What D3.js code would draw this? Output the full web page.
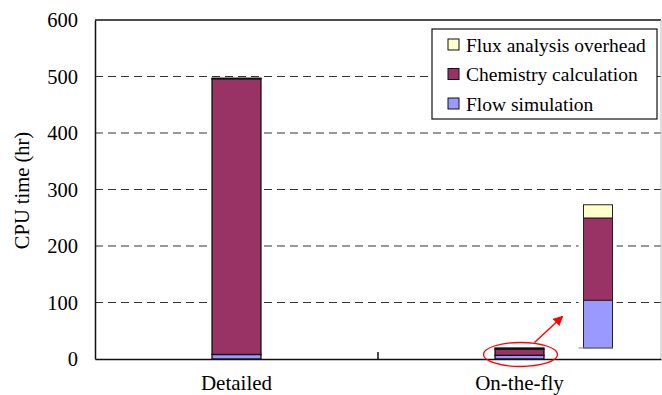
<!DOCTYPE html>
<html>
<head>
<meta charset="utf-8">
<script src="https://cdn.jsdelivr.net/npm/d3@7"></script>
<style>
  html, body { margin: 0; padding: 0; background: #fff; }
  svg { display: block; }
  svg text { font-family: "Liberation Serif", "Times New Roman", "DejaVu Serif", serif !important; fill: #000; }
</style>
</head>
<body>
<svg id="chart" width="662" height="395"></svg>
<script>
// CPU time breakdown (hours)
const categories = ["Detailed", "On-the-fly"];
const flowSimulation = [8, 6.5];
const chemistryCalculation = [488, 11.2];
const fluxOverhead = [1, 1.8];
const yTicks = [0, 100, 200, 300, 400, 500, 600];
const seriesNames = ["Flow simulation", "Chemistry calculation", "Flux analysis overhead"];
const seriesColors = ["#9999FF", "#993366", "#FFFFCC"];

const rows = categories.map((c, i) => ({
  cat: c,
  flow: flowSimulation[i],
  chem: chemistryCalculation[i],
  flux: fluxOverhead[i]
}));
const keys = ["flow", "chem", "flux"];
const stacked = d3.stack().keys(keys)(rows);

const svg = d3.select("#chart");
const plotLeft = 95, plotRight = 661, plotTop = 20, plotBottom = 359;

const x = d3.scaleBand().domain(categories).range([plotLeft, plotRight]).padding(0);
const y = d3.scaleLinear().domain([0, 600]).range([plotBottom, plotTop]);
const barW = x.bandwidth() * 0.173;
const color = d3.scaleOrdinal().domain(keys).range(seriesColors);

// dashed gridlines
svg.append("g").selectAll("line")
  .data(yTicks.filter(t => t > 0 && t < 600))
  .join("line")
  .attr("x1", plotLeft).attr("x2", plotRight)
  .attr("y1", d => y(d)).attr("y2", d => y(d))
  .attr("stroke", "#333").attr("stroke-width", 1)
  .attr("stroke-dasharray", "8,5");

// plot frame: top dark, right light
svg.append("line").attr("x1", plotLeft).attr("x2", plotRight).attr("y1", plotTop).attr("y2", plotTop)
  .attr("stroke", "#111").attr("stroke-width", 1.5);
svg.append("line").attr("x1", plotRight).attr("x2", plotRight).attr("y1", plotTop).attr("y2", plotBottom)
  .attr("stroke", "#bbb").attr("stroke-width", 1);

// stacked bars
const layers = svg.append("g").selectAll("g")
  .data(stacked)
  .join("g")
  .attr("fill", d => color(d.key));
layers.selectAll("rect")
  .data(d => d)
  .join("rect")
  .attr("x", d => x(d.data.cat) + x.bandwidth() / 2 - barW / 2)
  .attr("width", barW)
  .attr("y", d => y(d[1]))
  .attr("height", d => y(d[0]) - y(d[1]))
  .attr("stroke", "#111")
  .attr("stroke-width", 1.3);

// y axis
const yAxis = svg.append("g")
  .attr("transform", `translate(${plotLeft},0)`)
  .call(d3.axisLeft(y).tickValues(yTicks).tickSize(0).tickSizeOuter(0).tickPadding(17));
yAxis.select(".domain").attr("stroke", "#111").attr("stroke-width", 1.5);
yAxis.selectAll("text").attr("font-size", 20.5);

// x axis
const xAxis = svg.append("g")
  .attr("transform", `translate(0,${plotBottom})`)
  .call(d3.axisBottom(x).tickSize(0).tickSizeOuter(0));
xAxis.select(".domain").attr("stroke", "#111").attr("stroke-width", 1.5);
xAxis.selectAll("text").attr("dy", null).attr("y", 31).attr("font-size", 21);
// category separator tick
svg.append("line")
  .attr("x1", x(categories[1])).attr("x2", x(categories[1]))
  .attr("y1", plotBottom).attr("y2", plotBottom - 7)
  .attr("stroke", "#111").attr("stroke-width", 1.5);

// y axis title
svg.append("text")
  .attr("transform", `translate(29,${(plotTop + plotBottom) / 2 + 1}) rotate(-90)`)
  .attr("text-anchor", "middle")
  .attr("font-size", 20.5)
  .text("CPU time (hr)");

// magnified view of the on-the-fly bar
const otf = stacked.map(s => s[1]);
const otfTotal = otf[otf.length - 1][1];
const zoomFactor = 13;
const insetY = v => y(otfTotal + v * zoomFactor);
const otfCenter = x(categories[1]) + x.bandwidth() / 2;
const insetX = otfCenter + 64;
const insetW = 29;

const inset = svg.append("g");
inset.append("rect")
  .attr("x", insetX - 5).attr("width", insetW + 9)
  .attr("y", insetY(otfTotal) - 2).attr("height", insetY(0) - insetY(otfTotal) + 3)
  .attr("fill", "#fff");
inset.selectAll("rect.seg")
  .data(stacked.map(s => ({ key: s.key, v: s[1] })))
  .join("rect")
  .attr("class", "seg")
  .attr("x", insetX).attr("width", insetW)
  .attr("y", d => insetY(d.v[1]))
  .attr("height", d => insetY(d.v[0]) - insetY(d.v[1]))
  .attr("fill", d => color(d.key))
  .attr("stroke", "#222").attr("stroke-width", 1);
inset.append("line")
  .attr("x1", insetX - 5).attr("x2", insetX + insetW)
  .attr("y1", insetY(0)).attr("y2", insetY(0))
  .attr("stroke", "#888").attr("stroke-width", 1);

// highlight ellipse and arrow
svg.append("defs").append("marker")
  .attr("id", "arrowhead")
  .attr("viewBox", "0 0 10 10")
  .attr("refX", 9).attr("refY", 5)
  .attr("markerWidth", 7).attr("markerHeight", 7)
  .attr("orient", "auto")
  .append("path").attr("d", "M0,0 L10,5 L0,10 Z").attr("fill", "#f00");

svg.append("ellipse")
  .attr("cx", otfCenter + 1).attr("cy", y(otfTotal / 2) + 1)
  .attr("rx", 37).attr("ry", 12)
  .attr("fill", "none").attr("stroke", "#f00").attr("stroke-width", 1.3);
svg.append("line")
  .attr("x1", otfCenter + 15).attr("y1", y(otfTotal / 2) - 11)
  .attr("x2", otfCenter + 43).attr("y2", y(otfTotal / 2) - 37)
  .attr("stroke", "#f00").attr("stroke-width", 1.4)
  .attr("marker-end", "url(#arrowhead)");

// legend
const legend = svg.append("g");
legend.append("rect")
  .attr("x", 432).attr("y", 29).attr("width", 225).attr("height", 90)
  .attr("fill", "#fff").attr("stroke", "#111").attr("stroke-width", 1.2);
const legendItems = keys.map((k, i) => ({ key: k, name: seriesNames[i] })).reverse();
const li = legend.selectAll("g.item")
  .data(legendItems)
  .join("g")
  .attr("class", "item")
  .attr("transform", (d, i) => `translate(448,${45 + i * 29.5})`);
li.append("rect")
  .attr("x", 0).attr("y", -6).attr("width", 11).attr("height", 11)
  .attr("fill", d => color(d.key)).attr("stroke", "#111").attr("stroke-width", 1);
li.append("text")
  .attr("x", 18).attr("y", 6.5)
  .attr("font-size", 19.5)
  .text(d => d.name);
</script>
</body>
</html>
